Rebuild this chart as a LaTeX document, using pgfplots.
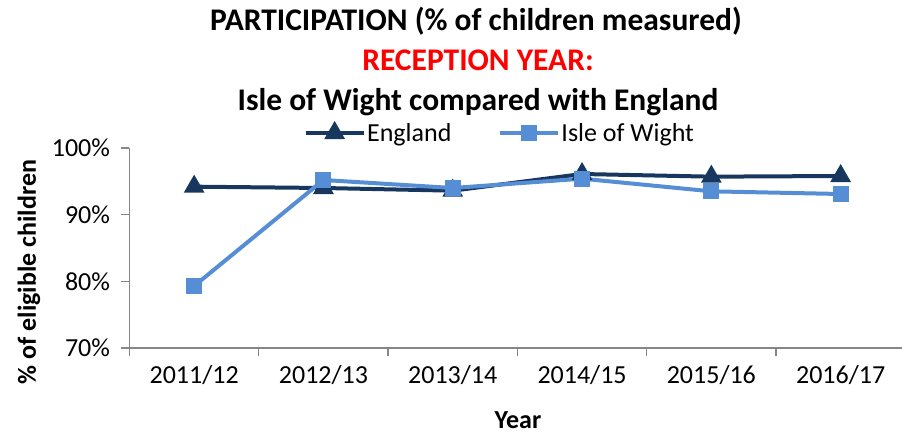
\documentclass[border=0pt]{standalone}
\usepackage{pgfplots}
\pgfplotsset{compat=1.18}
\usepackage{fontspec}
\setmainfont{Carlito}
\definecolor{eng}{RGB}{23,55,94}
\definecolor{iow}{RGB}{85,142,213}
\definecolor{axgrey}{RGB}{134,134,134}
\begin{document}
\begin{tikzpicture}[x=1pt,y=1pt]
\useasboundingbox (0,0) rectangle (902,434);
\begin{axis}[
  at={(129.5pt,86pt)}, anchor=south west,
  scale only axis, width=775.8pt, height=200pt,
  xmin=0.5, xmax=6.5, ymin=70, ymax=100,
  axis lines*=left,
  axis line style={axgrey, line width=1.3pt},
  xtick={0.5,1.5,...,6.5},
  x tick label as interval,
  xticklabels={2011/12,2012/13,2013/14,2014/15,2015/16,2016/17},
  ytick={70,80,90,100},
  yticklabels={70\%,80\%,90\%,100\%},
  tick align=outside,
  major tick length=8pt,
  tick style={axgrey, line width=1.3pt},
  ticklabel style={font=\fontsize{26}{30}\selectfont, text=black},
  xticklabel style={yshift=-6pt},
  yticklabel style={xshift=-8pt},
  clip=false,
  legend style={at={(0.477,1.075)}, anchor=center, draw=none, fill=none,
    font=\fontsize{26}{30}\selectfont, legend columns=2,
    nodes={inner xsep=1.5pt},
    /tikz/every even column/.append style={column sep=45pt}},
  legend image code/.code={\draw[mark repeat=2,mark phase=2] plot coordinates {(0pt,0pt)(29pt,0pt)(58pt,0pt)};},
]
\addplot[eng, line width=4pt, mark=triangle*, mark size=8pt, mark options={solid}]
  coordinates {(1,94.2)(2,94.0)(3,93.6)(4,96.1)(5,95.7)(6,95.8)};
\addlegendentry{England}
\addplot[iow, line width=4pt, mark=square*, mark size=6pt, mark options={solid}]
  coordinates {(1,79.3)(2,95.2)(3,94.0)(4,95.4)(5,93.5)(6,93.1)};
\addlegendentry{Isle of Wight}
\end{axis}
\node[font=\fontsize{31.5}{36}\selectfont\bfseries, anchor=base] at (476,403) {PARTICIPATION (\% of children measured)};
\node[font=\fontsize{31.5}{36}\selectfont\bfseries, text=red, anchor=base] at (478,363) {RECEPTION YEAR:};
\node[font=\fontsize{31.5}{36}\selectfont\bfseries, anchor=base] at (478,323) {Isle of Wight compared with England};
\node[font=\fontsize{26}{30}\selectfont\bfseries, rotate=90] at (29,162) {\% of eligible children};
\node[font=\fontsize{26}{30}\selectfont\bfseries, anchor=base, inner sep=0pt] at (518,6) {Year};
\end{tikzpicture}
\end{document}
